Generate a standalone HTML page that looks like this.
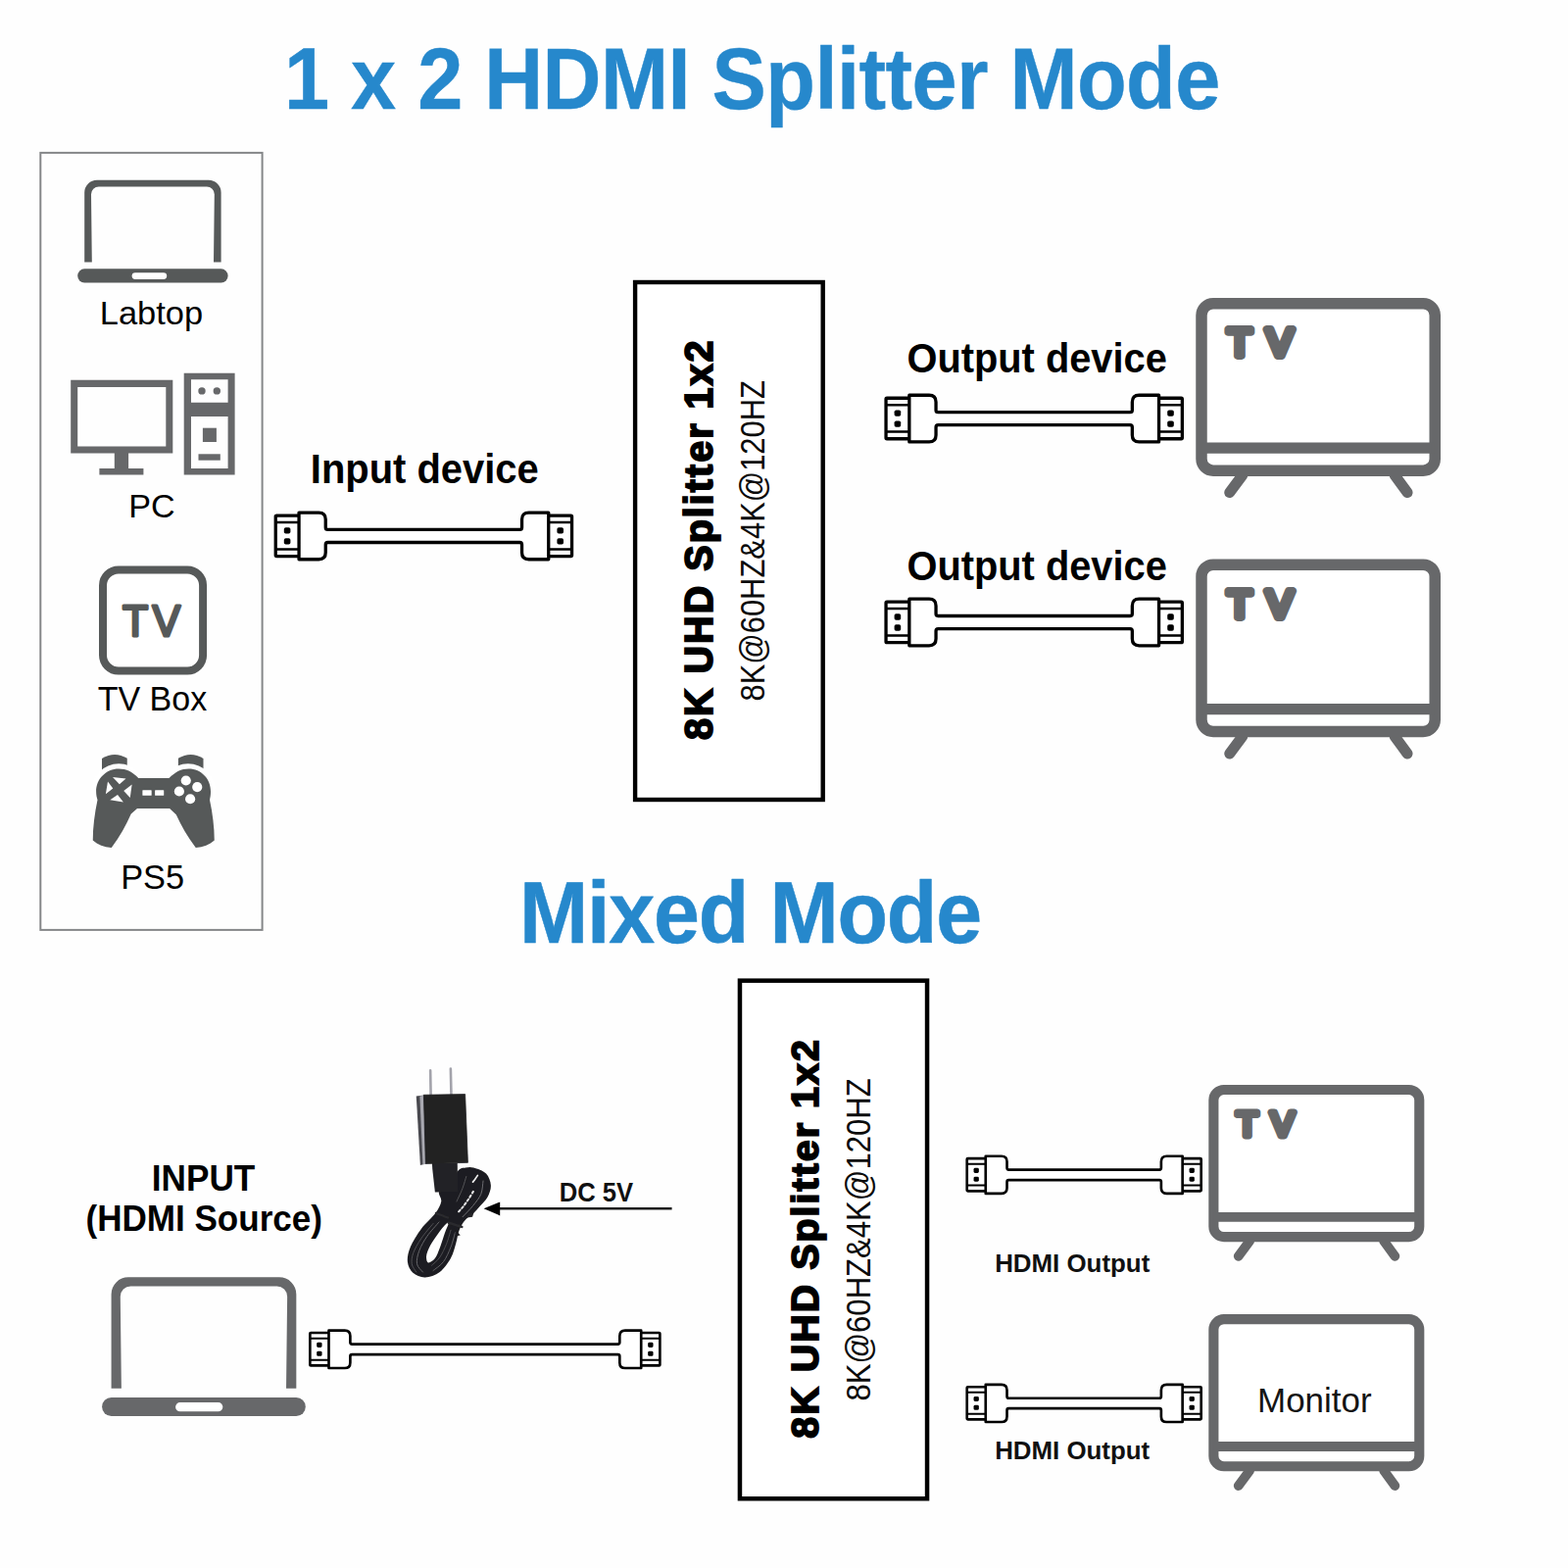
<!DOCTYPE html>
<html lang="en">
<head>
<meta charset="utf-8">
<title>1 x 2 HDMI Splitter Mode</title>
<style>
html,body{margin:0;padding:0;background:#fff;}
body{width:1600px;height:1600px;overflow:hidden;}
svg{display:block;font-family:"Liberation Sans", sans-serif;}
text{white-space:pre;font-kerning:none;}
</style>
</head>
<body>
<svg width="1600" height="1600" viewBox="0 0 1600 1600" role="img" aria-label="1 x 2 HDMI Splitter Mode and Mixed Mode connection diagram">
<rect width="1600" height="1600" fill="#fefefe"/>
<text transform="translate(289.96 111.1) scale(0.9392 1)" font-size="88.37" font-weight="700" fill="#2688cc" letter-spacing="-0.6" stroke="#2688cc" stroke-width="0.4" stroke-linejoin="round">1 x 2 HDMI Splitter Mode</text>
<text transform="translate(529.999 961.55) scale(0.9524 1)" font-size="88.52" font-weight="700" fill="#2688cc" letter-spacing="-1.2" stroke="#2688cc" stroke-width="0.5" stroke-linejoin="round">Mixed Mode</text>
<rect x="41.3" y="155.9" width="226.3" height="793" fill="none" stroke="#858789" stroke-width="2"/>
<g transform="translate(79.2 183.75) scale(1)" fill="#565959"><path d="M7 83.7 V12.8 A12.8 12.8 0 0 1 19.8 0 H133.6 A12.8 12.8 0 0 1 146.4 12.8 V83.7 H138.8 L139.6 14.6 A7.8 7.8 0 0 0 131.8 6.8 H21.6 A7.8 7.8 0 0 0 13.8 14.6 L14.6 83.7 Z"/><rect x="0" y="90.6" width="153.4" height="14.1" rx="7"/><rect x="55.4" y="94.4" width="35.6" height="6.8" rx="3.4" fill="#fff"/></g>
<text transform="translate(101.774 331) scale(1.0129 1)" font-size="34.01" font-weight="400" fill="#000">Labtop</text>
<g fill="#67686a"><path fill-rule="evenodd" d="M72.2 387.7 H176.3 V462.4 H131.1 V478.1 H146.4 V484.6 H101.4 V478.1 H116.8 V462.4 H72.2 Z M79.2 394.9 V455.6 H169.3 V394.9 Z"/><path fill-rule="evenodd" d="M187.7 380.7 H239.6 V484.6 H187.7 Z M195 387.2 V410.8 H232.6 V387.2 Z M195 425.1 V478.1 H232.6 V425.1 Z"/><circle cx="206" cy="398.9" r="3.7"/><circle cx="221.3" cy="398.9" r="3.7"/><rect x="206.9" y="436.7" width="14" height="14.3"/><rect x="202.5" y="463.3" width="22.3" height="6.4"/></g>
<text transform="translate(131.201 528) scale(1.0162 1)" font-size="33.58" font-weight="400" fill="#000">PC</text>
<g><rect x="105" y="581.5" width="102.1" height="103.1" rx="16" fill="#fff" stroke="#565959" stroke-width="8"/><text stroke-linecap="round" transform="translate(124.976 648.6) scale(0.9604 1)" font-size="44.7" font-weight="400" fill="#565959" letter-spacing="4.5" stroke="#565959" stroke-width="3" stroke-linejoin="round">TV</text></g>
<text transform="translate(99.737 724.5) scale(0.9742 1)" font-size="34.88" font-weight="400" fill="#000">TV Box</text>
<g fill="#565959"><path d="M104 774 Q116.88 766 129.75 773.75 V782.5 L104 786.25 Z"/><path d="M181.88 773.75 Q194.75 766 207.5 774 V786.25 L181.88 782.5 Z"/><circle cx="121.25" cy="807.75" r="28.4" fill="#fff"/><circle cx="191.88" cy="807.75" r="28.4" fill="#fff"/><path d="M141.25 794 H172.5 C178.75 787.5 185 784.38 192.5 784.38 C205.62 784.38 215.25 795 215 807.75 C215 811.25 214.5 813.75 214 816.25 C216.88 830 218.75 843.75 218.75 857.5 C213.75 861.88 207.5 864.38 199.75 865 C191.25 853.75 185 842.5 179.75 831.25 L173.12 825 H140 L133.75 830.62 C128.5 842.5 122.25 853.75 113.75 865 C106 864.38 99.75 861.88 94.75 857.5 C94.75 843.75 96.62 830 99.5 816.25 C98.75 813.75 98.12 811.25 98.12 807.75 C97.88 795 108.12 784.38 121.25 784.38 C128.75 784.38 135.62 787.5 141.25 794 Z"/><g fill="#fff"><path d="M115 793.12 L128.5 794.62 L121.88 800.25 Z"/><path d="M110 797.5 L115.25 804.38 L107.88 810.25 Z"/><path d="M134.62 800.62 L132.75 814 L126.25 806.88 Z"/><path d="M120 811 L125.88 818.38 L112.25 816.25 Z"/><rect x="145.38" y="806.25" width="9.3" height="5.6" rx="0.6"/><rect x="158.12" y="806.25" width="9.1" height="5.6" rx="0.6"/><circle cx="189.75" cy="796.5" r="5.1"/><circle cx="201.25" cy="803.12" r="5.1"/><circle cx="182.88" cy="807.5" r="5.1"/><circle cx="194.12" cy="815.25" r="5.1"/></g></g>
<text transform="translate(123.181 907.4) scale(0.9852 1)" font-size="34.88" font-weight="400" fill="#000">PS5</text>
<text transform="translate(316.828 493.2) scale(0.9508 1)" font-size="42.01" font-weight="700" fill="#000">Input device</text>
<g transform="translate(279.6 521.4)" fill="#fff" stroke="#000" stroke-width="3.3" stroke-linejoin="round"><g><rect x="1.65" y="4.65" width="25" height="41.5" rx="1"/><path d="M1.65 11.6 H25 M1.65 39 H25" fill="none" stroke-width="2.5"/><rect x="10.2" y="16.8" width="6.6" height="6.4" rx="1.8" fill="#000" stroke="none"/><rect x="10.2" y="27.8" width="6.6" height="6.4" rx="1.8" fill="#000" stroke="none"/></g><g transform="translate(305.6 0) scale(-1 1)"><rect x="1.65" y="4.65" width="25" height="41.5" rx="1"/><path d="M1.65 11.6 H25 M1.65 39 H25" fill="none" stroke-width="2.5"/><rect x="10.2" y="16.8" width="6.6" height="6.4" rx="1.8" fill="#000" stroke="none"/><rect x="10.2" y="27.8" width="6.6" height="6.4" rx="1.8" fill="#000" stroke="none"/></g><path d="M25.45 1.65 H45.65 Q52.65 1.65 52.65 8.65 V16.8 Q52.65 19 54.85 19 H250.75 Q252.95 19 252.95 16.8 V8.65 Q252.95 1.65 259.95 1.65 H280.15 V49.35 H259.95 Q252.95 49.35 252.95 42.35 V34.3 Q252.95 32.1 250.75 32.1 H54.85 Q52.65 32.1 52.65 34.3 V42.35 Q52.65 49.35 45.65 49.35 H25.45 Z"/></g>
<rect x="648.1" y="288" width="191.6" height="528" fill="#fff" stroke="#000" stroke-width="4.4"/><text transform="translate(727.3 755.062) rotate(-90) scale(0.9944 1)" font-size="39.83" font-weight="700" fill="#000" letter-spacing="2" stroke="#000" stroke-width="1.8" stroke-linejoin="miter">8K UHD Splitter 1x2</text><text transform="translate(780 715.444) rotate(-90) scale(0.8977 1)" font-size="34.45" font-weight="400" fill="#0b0b0b">8K@60HZ&amp;4K@120HZ</text>
<text transform="translate(925.467 379.5) scale(0.9476 1)" font-size="42.01" font-weight="700" fill="#000">Output device</text>
<g transform="translate(902.4 401.6)" fill="#fff" stroke="#000" stroke-width="3.3" stroke-linejoin="round"><g><rect x="1.65" y="4.65" width="25" height="41.5" rx="1"/><path d="M1.65 11.6 H25 M1.65 39 H25" fill="none" stroke-width="2.5"/><rect x="10.2" y="16.8" width="6.6" height="6.4" rx="1.8" fill="#000" stroke="none"/><rect x="10.2" y="27.8" width="6.6" height="6.4" rx="1.8" fill="#000" stroke="none"/></g><g transform="translate(305.6 0) scale(-1 1)"><rect x="1.65" y="4.65" width="25" height="41.5" rx="1"/><path d="M1.65 11.6 H25 M1.65 39 H25" fill="none" stroke-width="2.5"/><rect x="10.2" y="16.8" width="6.6" height="6.4" rx="1.8" fill="#000" stroke="none"/><rect x="10.2" y="27.8" width="6.6" height="6.4" rx="1.8" fill="#000" stroke="none"/></g><path d="M25.45 1.65 H45.65 Q52.65 1.65 52.65 8.65 V16.8 Q52.65 19 54.85 19 H250.75 Q252.95 19 252.95 16.8 V8.65 Q252.95 1.65 259.95 1.65 H280.15 V49.35 H259.95 Q252.95 49.35 252.95 42.35 V34.3 Q252.95 32.1 250.75 32.1 H54.85 Q52.65 32.1 52.65 34.3 V42.35 Q52.65 49.35 45.65 49.35 H25.45 Z"/></g>
<g transform="translate(1220.25 304) scale(1)" fill="none" stroke="#67686a" stroke-width="11.5" stroke-linecap="round"><path d="M47.5 181 L34.5 198.6 M203 181 L215.8 198.6" stroke-width="11"/><rect x="5.75" y="5.75" width="238.25" height="170.4" rx="12" fill="#fff"/><path d="M6 153.2 H243.5" stroke-linecap="butt" stroke-width="11.3"/><text stroke-linecap="round" transform="translate(32.227 59.3) scale(1.0349 1)" font-size="39.1" font-weight="400" fill="#67686a" letter-spacing="14.5" stroke="#67686a" stroke-width="7.8" stroke-linejoin="round">TV</text></g>
<text transform="translate(925.467 591.6) scale(0.9476 1)" font-size="42.01" font-weight="700" fill="#000">Output device</text>
<g transform="translate(902.4 609.5)" fill="#fff" stroke="#000" stroke-width="3.3" stroke-linejoin="round"><g><rect x="1.65" y="4.65" width="25" height="41.5" rx="1"/><path d="M1.65 11.6 H25 M1.65 39 H25" fill="none" stroke-width="2.5"/><rect x="10.2" y="16.8" width="6.6" height="6.4" rx="1.8" fill="#000" stroke="none"/><rect x="10.2" y="27.8" width="6.6" height="6.4" rx="1.8" fill="#000" stroke="none"/></g><g transform="translate(305.6 0) scale(-1 1)"><rect x="1.65" y="4.65" width="25" height="41.5" rx="1"/><path d="M1.65 11.6 H25 M1.65 39 H25" fill="none" stroke-width="2.5"/><rect x="10.2" y="16.8" width="6.6" height="6.4" rx="1.8" fill="#000" stroke="none"/><rect x="10.2" y="27.8" width="6.6" height="6.4" rx="1.8" fill="#000" stroke="none"/></g><path d="M25.45 1.65 H45.65 Q52.65 1.65 52.65 8.65 V16.8 Q52.65 19 54.85 19 H250.75 Q252.95 19 252.95 16.8 V8.65 Q252.95 1.65 259.95 1.65 H280.15 V49.35 H259.95 Q252.95 49.35 252.95 42.35 V34.3 Q252.95 32.1 250.75 32.1 H54.85 Q52.65 32.1 52.65 34.3 V42.35 Q52.65 49.35 45.65 49.35 H25.45 Z"/></g>
<g transform="translate(1220.25 570.4) scale(1)" fill="none" stroke="#67686a" stroke-width="11.5" stroke-linecap="round"><path d="M47.5 181 L34.5 198.6 M203 181 L215.8 198.6" stroke-width="11"/><rect x="5.75" y="5.75" width="238.25" height="170.4" rx="12" fill="#fff"/><path d="M6 153.2 H243.5" stroke-linecap="butt" stroke-width="11.3"/><text stroke-linecap="round" transform="translate(32.227 59.3) scale(1.0349 1)" font-size="39.1" font-weight="400" fill="#67686a" letter-spacing="14.5" stroke="#67686a" stroke-width="7.8" stroke-linejoin="round">TV</text></g>
<text transform="translate(154.849 1214.6) scale(0.973 1)" font-size="36.12" font-weight="700" fill="#000">INPUT</text>
<text transform="translate(87.504 1256.25) scale(0.9705 1)" font-size="36.12" font-weight="700" fill="#000">(HDMI Source)</text>
<g transform="translate(104.1 1303.3) scale(1.354)" fill="#67686a"><path d="M7 83.7 V12.8 A12.8 12.8 0 0 1 19.8 0 H133.6 A12.8 12.8 0 0 1 146.4 12.8 V83.7 H138.8 L139.6 14.6 A7.8 7.8 0 0 0 131.8 6.8 H21.6 A7.8 7.8 0 0 0 13.8 14.6 L14.6 83.7 Z"/><rect x="0" y="90.6" width="153.4" height="14.1" rx="7"/><rect x="55.4" y="94.4" width="35.6" height="6.8" rx="3.4" fill="#fff"/></g>
<g transform="translate(315 1356.3)" fill="#fff" stroke="#000" stroke-width="2.66" stroke-linejoin="round"><g><rect x="1.33" y="3.74" width="20.12" height="33.41" rx="0.81"/><path d="M1.33 9.34 H20.12 M1.33 31.39 H20.12" fill="none" stroke-width="2.01"/><rect x="8.21" y="13.52" width="5.31" height="5.15" rx="1.45" fill="#000" stroke="none"/><rect x="8.21" y="22.38" width="5.31" height="5.15" rx="1.45" fill="#000" stroke="none"/></g><g transform="translate(359.7 0) scale(-1 1)"><rect x="1.33" y="3.74" width="20.12" height="33.41" rx="0.81"/><path d="M1.33 9.34 H20.12 M1.33 31.39 H20.12" fill="none" stroke-width="2.01"/><rect x="8.21" y="13.52" width="5.31" height="5.15" rx="1.45" fill="#000" stroke="none"/><rect x="8.21" y="22.38" width="5.31" height="5.15" rx="1.45" fill="#000" stroke="none"/></g><path d="M20.49 1.33 H36.75 Q42.38 1.33 42.38 6.96 V13.52 Q42.38 15.3 44.15 15.3 H315.55 Q317.32 15.3 317.32 13.52 V6.96 Q317.32 1.33 322.95 1.33 H339.21 V39.73 H322.95 Q317.32 39.73 317.32 34.09 V27.61 Q317.32 25.84 315.55 25.84 H44.15 Q42.38 25.84 42.38 27.61 V34.09 Q42.38 39.73 36.75 39.73 H20.49 Z"/></g>
<defs><filter id="soft" x="-10%" y="-10%" width="120%" height="120%"><feGaussianBlur stdDeviation="0.45"/></filter></defs><g filter="url(#soft)"><path d="M439.15 1092.38 L439.6 1116.75 M459.85 1090.5 L460.45 1116.75" stroke="#a3a3ab" stroke-width="2.6" fill="none" stroke-linecap="round"/><path d="M448 1216.25 C449.12 1214 453.75 1216.12 457 1212.5 C460.25 1208.88 464.5 1198 467.5 1194.5 C470.5 1191 472.38 1192 475 1191.5 C477.62 1191 479.75 1190.5 483.25 1191.5 C486.75 1192.5 493.06 1194.5 496 1197.5 C498.94 1200.5 500.62 1205.5 500.88 1209.5 C501.12 1213.5 499.31 1218 497.5 1221.5 C495.69 1225 492.38 1227.75 490 1230.5 C487.62 1233.25 485.38 1236 483.25 1238 C481.12 1240 479.12 1240.75 477.25 1242.5 C475.38 1244.25 473.56 1246 472 1248.5 C470.44 1251 469 1254.12 467.88 1257.5 C466.75 1260.88 466.56 1264.38 465.25 1268.75 C463.94 1273.12 462.75 1278.88 460 1283.75 C457.25 1288.62 453.12 1294.72 448.75 1298 C444.38 1301.28 438.31 1303.28 433.75 1303.4 C429.19 1303.53 424.35 1301.4 421.38 1298.75 C418.4 1296.1 416.34 1291.88 415.9 1287.5 C415.46 1283.12 416.4 1278.12 418.75 1272.5 C421.1 1266.88 425.75 1259.5 430 1253.75 C434.25 1248 440.88 1242.62 444.25 1238 C447.62 1233.38 449.62 1229.62 450.25 1226 C450.88 1222.38 446.88 1218.5 448 1216.25 Z M456.1 1248.12 C454.54 1249.44 450.85 1253.69 448 1257.5 C445.15 1261.31 441.15 1267 439 1271 C436.85 1275 435.45 1278.6 435.1 1281.5 C434.75 1284.4 435.44 1287.96 436.9 1288.4 C438.36 1288.84 441.84 1286.78 443.88 1284.12 C445.91 1281.47 447.41 1276.94 449.12 1272.5 C450.84 1268.06 452.77 1261.31 454.15 1257.5 C455.52 1253.69 457.05 1251.19 457.38 1249.62 C457.7 1248.06 457.66 1246.81 456.1 1248.12 Z" fill="#1d1d20" fill-rule="evenodd"/><g fill="none" stroke-linecap="round"><path d="M487.38 1199.38 C487 1199.94 485.94 1201.62 485.12 1202.75 C484.31 1203.88 482.94 1205.56 482.5 1206.12" stroke="#efefef" stroke-width="1.7"/><path d="M482.88 1215.88 C482.06 1217.19 479.81 1221.06 478 1223.75 C476.19 1226.44 473.69 1229.88 472 1232 C470.31 1234.12 468.56 1235.75 467.88 1236.5" stroke="#e4e4e6" stroke-width="2.0" stroke-dasharray="2.2 2.4"/><path d="M493 1205 C492.62 1207.25 492.5 1214.25 490.75 1218.5 C489 1222.75 485.62 1226.62 482.5 1230.5 C479.38 1234.38 473.75 1239.88 472 1241.75" stroke="#6c6c72" stroke-width="1.0"/><path d="M475.75 1200.5 C475.12 1202.5 473.62 1208.25 472 1212.5 C470.38 1216.75 467 1223.75 466 1226" stroke="#5a5a60" stroke-width="0.9"/><path d="M448 1247 C446 1249.38 439.38 1256.38 436 1261.25 C432.62 1266.12 429.5 1271.5 427.75 1276.25 C426 1281 424.88 1286.12 425.5 1289.75 C426.12 1293.38 430.5 1296.62 431.5 1298" stroke="#66666c" stroke-width="1.0"/><path d="M442 1248.5 C440 1251 433.38 1258.5 430 1263.5 C426.62 1268.5 423.38 1274.12 421.75 1278.5 C420.12 1282.88 419.75 1286.5 420.25 1289.75 C420.75 1293 424 1296.62 424.75 1298" stroke="#55555b" stroke-width="0.9"/><path d="M464.5 1257.5 C463.75 1260 462 1267.5 460 1272.5 C458 1277.5 455.5 1283.5 452.5 1287.5 C449.5 1291.5 443.75 1295 442 1296.5" stroke="#606066" stroke-width="1.0"/><path d="M460 1255.25 C459.25 1257.62 457.38 1264.88 455.5 1269.5 C453.62 1274.12 451.25 1279.38 448.75 1283 C446.25 1286.62 441.88 1289.88 440.5 1291.25" stroke="#505056" stroke-width="0.9"/></g><path d="M445 1238 L457 1242.5" stroke="#2a2a2e" stroke-width="2.4" stroke-linecap="round"/><path d="M457.75 1247.75 L471.25 1251.88" stroke="#2a2a2e" stroke-width="2.6" stroke-linecap="round"/><polygon points="463.75,1253.75 469.75,1260.5 465.25,1261.25" fill="#1d1d20"/><polygon points="478,1238 483.25,1238 482.12,1241.75 476.5,1242.5" fill="#232326"/><polygon points="440.88,1186.5 466.75,1186.5 467.12,1216.25 443.88,1216.62 441.25,1193" fill="#242427"/><polygon points="424.75,1118.62 433,1117.5 435.25,1187.25 428.88,1188.9" fill="#4a4a50"/><polygon points="428.35,1118.4 432.4,1117.65 434.65,1187.4 431.5,1188.45" fill="#a9a9b1"/><polygon points="432.4,1117.28 474.62,1116.6 477.4,1186.35 434.35,1187.4" fill="#222224" stroke="#222224" stroke-width="0.8" stroke-linejoin="round"/></g>
<text transform="translate(570.685 1225.6) scale(0.948 1)" font-size="27.04" font-weight="700" fill="#111">DC 5V</text>
<path d="M509 1233.3 H685.6" stroke="#1c1c1c" stroke-width="2.4" fill="none"/><path d="M493.6 1233.3 L510.2 1226.5 V1240.4 Z" fill="#000"/>
<rect x="754.95" y="1000.65" width="191.1" height="528.6" fill="#fff" stroke="#000" stroke-width="4.5"/><text transform="translate(834.8 1467.644) rotate(-90) scale(1.0085 1)" font-size="39.1" font-weight="700" fill="#000" letter-spacing="2" stroke="#000" stroke-width="1.8" stroke-linejoin="miter">8K UHD Splitter 1x2</text><text transform="translate(887.7 1429.552) rotate(-90) scale(0.9107 1)" font-size="34.16" font-weight="400" fill="#0b0b0b">8K@60HZ&amp;4K@120HZ</text>
<g transform="translate(985.4 1178.4)" fill="#fff" stroke="#000" stroke-width="2.64" stroke-linejoin="round"><g><rect x="1.32" y="3.72" width="20" height="33.2" rx="0.8"/><path d="M1.32 9.28 H20 M1.32 31.2 H20" fill="none" stroke-width="2"/><rect x="8.16" y="13.44" width="5.28" height="5.12" rx="1.44" fill="#000" stroke="none"/><rect x="8.16" y="22.24" width="5.28" height="5.12" rx="1.44" fill="#000" stroke="none"/></g><g transform="translate(241.6 0) scale(-1 1)"><rect x="1.32" y="3.72" width="20" height="33.2" rx="0.8"/><path d="M1.32 9.28 H20 M1.32 31.2 H20" fill="none" stroke-width="2"/><rect x="8.16" y="13.44" width="5.28" height="5.12" rx="1.44" fill="#000" stroke="none"/><rect x="8.16" y="22.24" width="5.28" height="5.12" rx="1.44" fill="#000" stroke="none"/></g><path d="M20.36 1.32 H36.52 Q42.12 1.32 42.12 6.92 V13.44 Q42.12 15.2 43.88 15.2 H197.72 Q199.48 15.2 199.48 13.44 V6.92 Q199.48 1.32 205.08 1.32 H221.24 V39.48 H205.08 Q199.48 39.48 199.48 33.88 V27.44 Q199.48 25.68 197.72 25.68 H43.88 Q42.12 25.68 42.12 27.44 V33.88 Q42.12 39.48 36.52 39.48 H20.36 Z"/></g>
<text transform="translate(1015.168 1297.9) scale(0.9894 1)" font-size="26.16" font-weight="700" fill="#111">HDMI Output</text>
<g transform="translate(1233.3 1106.9) scale(0.881)" fill="none" stroke="#67686a" stroke-width="11.5" stroke-linecap="round"><path d="M47.5 181 L34.5 198.6 M203 181 L215.8 198.6" stroke-width="11"/><rect x="5.75" y="5.75" width="238.25" height="170.4" rx="12" fill="#fff"/><path d="M6 153.2 H243.5" stroke-linecap="butt" stroke-width="11.3"/><text stroke-linecap="round" transform="translate(32.227 59.3) scale(1.0349 1)" font-size="39.1" font-weight="400" fill="#67686a" letter-spacing="14.5" stroke="#67686a" stroke-width="7.8" stroke-linejoin="round">TV</text></g>
<g transform="translate(985.4 1411.5)" fill="#fff" stroke="#000" stroke-width="2.64" stroke-linejoin="round"><g><rect x="1.32" y="3.72" width="20" height="33.2" rx="0.8"/><path d="M1.32 9.28 H20 M1.32 31.2 H20" fill="none" stroke-width="2"/><rect x="8.16" y="13.44" width="5.28" height="5.12" rx="1.44" fill="#000" stroke="none"/><rect x="8.16" y="22.24" width="5.28" height="5.12" rx="1.44" fill="#000" stroke="none"/></g><g transform="translate(241.6 0) scale(-1 1)"><rect x="1.32" y="3.72" width="20" height="33.2" rx="0.8"/><path d="M1.32 9.28 H20 M1.32 31.2 H20" fill="none" stroke-width="2"/><rect x="8.16" y="13.44" width="5.28" height="5.12" rx="1.44" fill="#000" stroke="none"/><rect x="8.16" y="22.24" width="5.28" height="5.12" rx="1.44" fill="#000" stroke="none"/></g><path d="M20.36 1.32 H36.52 Q42.12 1.32 42.12 6.92 V13.44 Q42.12 15.2 43.88 15.2 H197.72 Q199.48 15.2 199.48 13.44 V6.92 Q199.48 1.32 205.08 1.32 H221.24 V39.48 H205.08 Q199.48 39.48 199.48 33.88 V27.44 Q199.48 25.68 197.72 25.68 H43.88 Q42.12 25.68 42.12 27.44 V33.88 Q42.12 39.48 36.52 39.48 H20.36 Z"/></g>
<text transform="translate(1015.168 1488.7) scale(0.9839 1)" font-size="26.31" font-weight="700" fill="#111">HDMI Output</text>
<g transform="translate(1233.3 1341.1) scale(0.881)" fill="none" stroke="#67686a" stroke-width="11.5" stroke-linecap="round"><path d="M47.5 181 L34.5 198.6 M203 181 L215.8 198.6" stroke-width="11"/><rect x="5.75" y="5.75" width="238.25" height="170.4" rx="12" fill="#fff"/><path d="M6 153.2 H243.5" stroke-linecap="butt" stroke-width="11.3"/></g>
<text transform="translate(1283.033 1441.2) scale(0.9937 1)" font-size="35.18" font-weight="400" fill="#141414">Monitor</text>
</svg>
</body>
</html>
